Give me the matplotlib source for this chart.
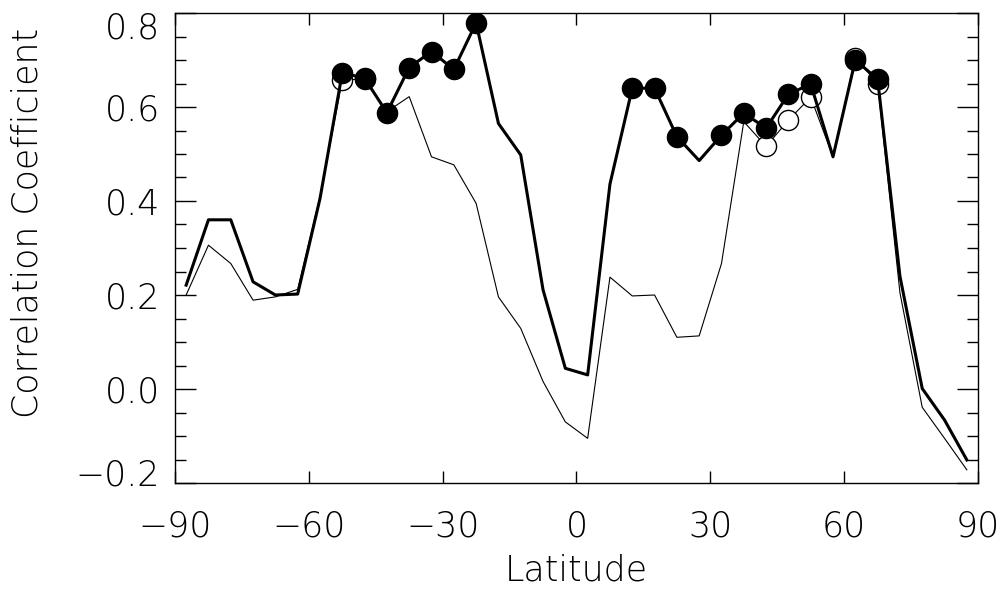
import numpy as np
import matplotlib.pyplot as plt
from matplotlib.ticker import MultipleLocator
from matplotlib.transforms import ScaledTranslation

plt.rcParams['font.family'] = ['DejaVu Sans']
plt.rcParams['font.weight'] = 200
plt.rcParams['axes.labelweight'] = 200

# latitude band centres (5 degree bands)
lat = np.arange(-87.5, 90, 5.0)

# correlation, thick curve
corr_thick = [0.221, 0.36, 0.36, 0.228, 0.20, 0.202, 0.405, 0.673, 0.661, 0.588,
              0.684, 0.718, 0.680, 0.779, 0.565, 0.498, 0.211, 0.044, 0.030, 0.436,
              0.640, 0.640, 0.537, 0.486, 0.540, 0.587, 0.555, 0.627, 0.649, 0.494,
              0.700, 0.659, 0.240, 0.001, -0.066, -0.151]

# correlation, thin curve
corr_thin = [0.200, 0.306, 0.267, 0.189, 0.196, 0.212, 0.409, 0.657, 0.660, 0.590,
             0.622, 0.494, 0.477, 0.395, 0.196, 0.129, 0.016, -0.070, -0.105, 0.238,
             0.198, 0.200, 0.110, 0.113, 0.267, 0.569, 0.516, 0.572, 0.621, 0.494,
             0.705, 0.650, 0.205, -0.039, -0.105, -0.172]

# bands flagged significant (markers)
sig_thick = [-52.5, -47.5, -42.5, -37.5, -32.5, -27.5, -22.5, 12.5, 17.5, 22.5,
             32.5, 37.5, 42.5, 47.5, 52.5, 62.5, 67.5]
sig_thin = [-52.5, -47.5, 42.5, 47.5, 52.5, 62.5, 67.5]

corr_thick = np.array(corr_thick)
corr_thin = np.array(corr_thin)
m_thick = np.isin(lat, sig_thick)
m_thin = np.isin(lat, sig_thin)

fig = plt.figure(figsize=(10.03, 5.90), dpi=100)
ax = fig.add_axes([175/1003, 1 - 483/590, 803/1003, 470/590])

ax.plot(lat, corr_thin, color='black', lw=0.8)
ax.plot(lat[m_thin], corr_thin[m_thin], 'o', ms=14.5, mfc='white', mec='black', mew=1.0)
ax.plot(lat, corr_thick, color='black', lw=2.2)
ax.plot(lat[m_thick], corr_thick[m_thick], 'o', ms=14.5, mfc='black', mec='black')

ax.set_xlim(-90, 90)
ax.set_ylim(-0.2, 0.8)
ax.set_xticks([-90, -60, -30, 0, 30, 60, 90])
ax.set_xticklabels(['\u221290', '\u221260', '\u221230', '0', '30', '60', '90'])
ax.set_yticks([-0.2, 0.0, 0.2, 0.4, 0.6, 0.8])
ax.set_yticklabels(['\u22120.2', '0.0', '0.2', '0.4', '0.6', '0.8'])
ax.yaxis.set_minor_locator(MultipleLocator(0.05))

ax.tick_params(axis='x', which='major', direction='in', length=8.6, width=1.0,
               top=True, bottom=True, labelsize=25, pad=19)
ax.tick_params(axis='y', which='major', direction='in', length=15, width=1.0,
               left=True, right=True, labelsize=25, pad=11)
ax.tick_params(axis='y', which='minor', direction='in', length=8, width=1.0,
               left=True, right=True)
for s in ax.spines.values():
    s.set_linewidth(1.0)

# end labels sit inside the axis span in the original
ticks = ax.yaxis.get_major_ticks()
ticks[0].label1.set_transform(ticks[0].label1.get_transform() +
                              ScaledTranslation(0, 11/100, fig.dpi_scale_trans))
ticks[-1].label1.set_transform(ticks[-1].label1.get_transform() +
                               ScaledTranslation(0, -12/100, fig.dpi_scale_trans))

ax.set_xlabel('Latitude', fontsize=25)
ax.set_ylabel('Correlation Coefficient', fontsize=25)
ax.xaxis.set_label_coords(0.5, -0.15)
ax.yaxis.set_label_coords(-0.163, 0.553)

fig.savefig('out.png', dpi=100)
